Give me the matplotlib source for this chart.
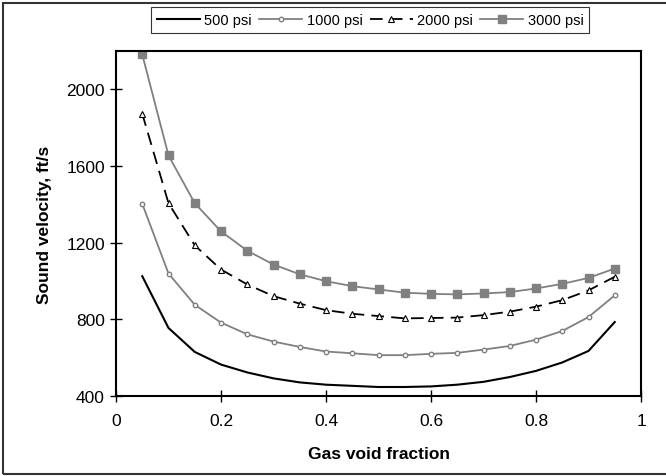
import numpy as np
import matplotlib
matplotlib.use("Agg")
import matplotlib.pyplot as plt
from matplotlib.patches import Rectangle

# Datos
void_fraction = [0.05, 0.10, 0.15, 0.20, 0.25, 0.30, 0.35, 0.40, 0.45, 0.50,
                 0.55, 0.60, 0.65, 0.70, 0.75, 0.80, 0.85, 0.90, 0.95]
v_500 = [1025, 755, 630, 564, 523, 492, 471, 459, 453, 447,
         447, 450, 459, 474, 499, 531, 575, 635, 786]
v_1000 = [1403, 1039, 876, 783, 722, 684, 656, 632, 623, 613,
          613, 620, 625, 642, 661, 694, 739, 812, 925]
v_2000 = [1873, 1406, 1186, 1060, 982, 921, 882, 848, 829, 817,
          805, 807, 809, 822, 840, 866, 900, 951, 1022]
v_3000 = [2182, 1655, 1406, 1259, 1158, 1086, 1035, 999, 973, 956,
          939, 933, 930, 935, 942, 961, 985, 1016, 1065]

labels = ["500 psi", "1000 psi", "2000 psi", "3000 psi"]
gray = "#808080"

plt.rcParams['font.family'] = ['Liberation Sans', 'DejaVu Sans']

fig = plt.figure(figsize=(6.66, 4.77), dpi=100)
ax = fig.add_axes([116 / 666, 1 - 397 / 477, 525 / 666, 345 / 477])

ax.plot(void_fraction, v_500, color="black", lw=1.5, label=labels[0])
ax.plot(void_fraction, v_1000, color=gray, lw=1.3, marker="o", ms=3.2,
        mfc="white", mec=gray, mew=1.0, label=labels[1])
ax.plot(void_fraction, v_2000, color="black", lw=1.3, ls=(0, (7, 4)),
        marker="^", ms=5, mfc="white", mec="black", mew=0.8, label=labels[2])
ax.plot(void_fraction, v_3000, color=gray, lw=1.3, marker="s", ms=5.5,
        mfc=gray, mec=gray, label=labels[3])

ax.set_xlim(0, 1)
ax.set_ylim(400, 2200)
ax.set_xticks([0, 0.2, 0.4, 0.6, 0.8, 1])
ax.set_xticklabels(["0", "0.2", "0.4", "0.6", "0.8", "1"])
ax.set_yticks([400, 800, 1200, 1600, 2000])
ax.tick_params(direction="inout", length=8, width=1, labelsize=12.5)
ax.tick_params(axis="x", pad=8)
ax.tick_params(axis="y", pad=4)

for sp in ax.spines.values():
    sp.set_linewidth(1.5)

ax.set_xlabel("Gas void fraction", fontsize=12.5, fontweight="bold", labelpad=13)
ax.set_ylabel("Sound velocity, ft/s", fontsize=12.5, fontweight="bold", labelpad=10)

leg = fig.legend(loc="upper left", bbox_to_anchor=(151 / 666, 1 - 8 / 477),
                 ncol=4, frameon=True, fancybox=False,
                 prop={"family": ['Liberation Sans Narrow', 'Liberation Sans'],
                       "size": 10.5},
                 handlelength=2.95, handletextpad=0.3, columnspacing=0.5,
                 borderpad=0.4, borderaxespad=0)
leg.get_frame().set_edgecolor("black")
leg.get_frame().set_linewidth(0.8)

# Marco exterior
fig.patches.append(Rectangle((3 / 666, 2 / 477), 1.0, 1 - 6 / 477,
                             transform=fig.transFigure, fill=False,
                             edgecolor="#333333", lw=1.5))

fig.savefig("out.png", dpi=100)
